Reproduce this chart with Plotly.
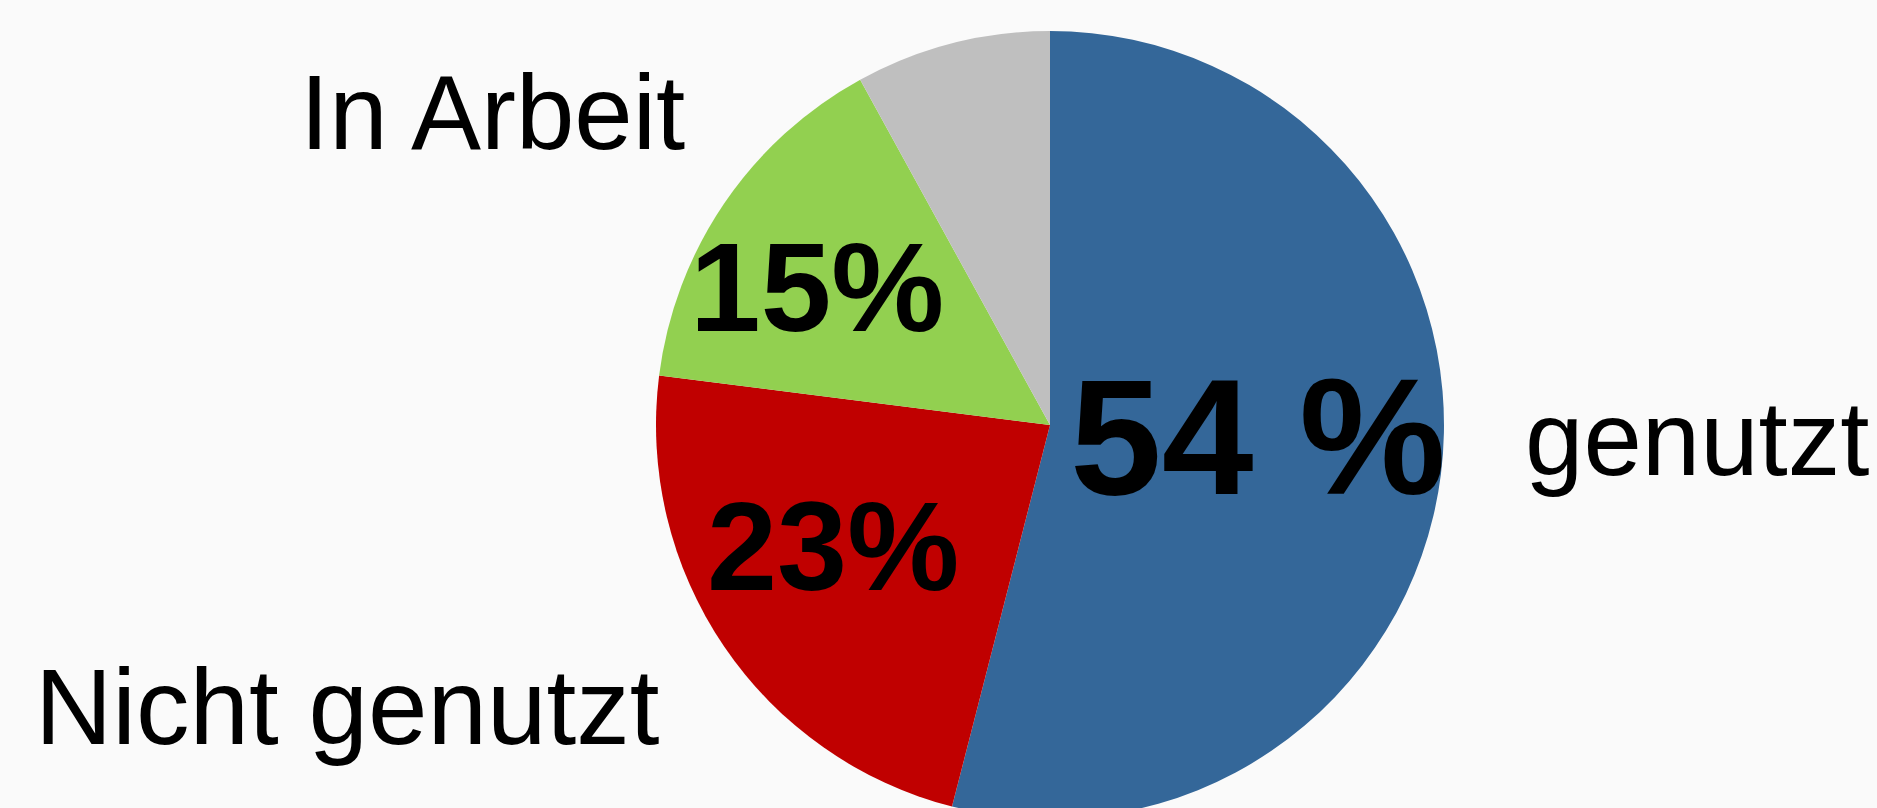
import plotly.graph_objects as go

categories = ["genutzt", "Nicht genutzt", "In Arbeit", "Sonstige"]
values = [54, 23, 15, 8]
pct_labels = ["54 %", "23%", "15%", ""]
colors = ["#346799", "#C00000", "#92D050", "#BFBFBF"]

W, H = 1877, 830
cx, cy, r = 1050, 425, 394

fig = go.Figure(go.Pie(
    labels=categories, values=values, sort=False, direction="clockwise", rotation=0,
    marker=dict(colors=colors, line=dict(width=0)),
    textinfo="none", hoverinfo="label+percent", showlegend=False,
    domain=dict(x=[(cx - r) / W, (cx + r) / W], y=[1 - (cy + r) / H, 1 - (cy - r) / H]),
))

def px(x):
    return x / W

def py(y):
    return 1 - y / H

# inner percentage labels
inner_pos = [(1258, 437, 165), (833, 546, 126), (817, 287, 127)]
for (x, y, s), t in zip(inner_pos, pct_labels[:3]):
    fig.add_annotation(x=px(x), y=py(y), xref="paper", yref="paper", text="<b>%s</b>" % t,
                       showarrow=False, xanchor="center", yanchor="middle",
                       font=dict(family="Liberation Sans, Arial", size=s, color="black"))

# outer category labels
outer_pos = [(1697, 438, 105), (347, 707, 107), (493, 113, 105)]
for (x, y, s), t in zip(outer_pos, categories[:3]):
    fig.add_annotation(x=px(x), y=py(y), xref="paper", yref="paper", text=t,
                       showarrow=False, xanchor="center", yanchor="middle",
                       font=dict(family="Liberation Sans, Arial", size=s, color="black"))

fig.update_layout(width=W, height=H, margin=dict(l=0, r=0, t=0, b=0),
                  paper_bgcolor="#FAFAFA", plot_bgcolor="#FAFAFA")

fig.write_html("out.html", config={"displayModeBar": False},
               post_script="document.body.style.margin='0';document.body.style.overflow='hidden';document.documentElement.style.overflow='hidden';")
